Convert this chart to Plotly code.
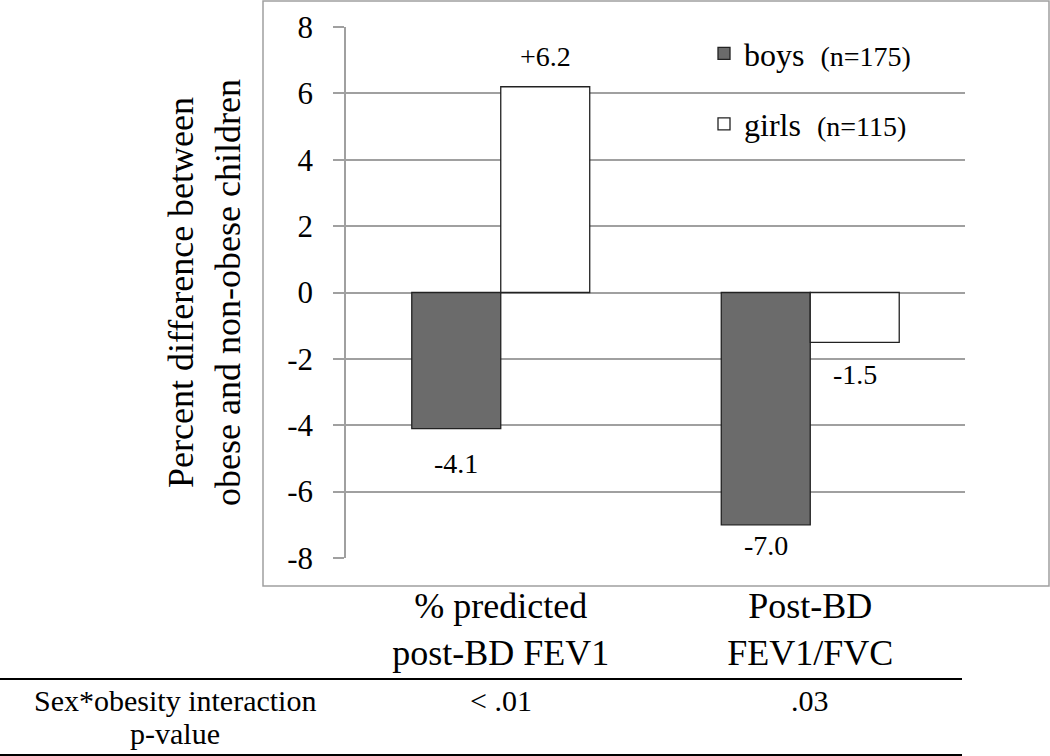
import plotly.graph_objects as go

# ---- data ----
categories = ["% predicted<br>post-BD FEV1", "Post-BD<br>FEV1/FVC"]
series_names = ["boys", "girls"]
series_n = ["(n=175)", "(n=115)"]
boys = [-4.1, -7.0]
girls = [6.2, -1.5]
boys_labels = ["-4.1", "-7.0"]
girls_labels = ["+6.2", "-1.5"]
y_ticks = [-8, -6, -4, -2, 0, 2, 4, 6, 8]
y_title = "Percent difference between<br>obese and non-obese children"
row_label = ["Sex*obesity interaction", "p-value"]
p_values = ["< .01", ".03"]

# ---- layout geometry (pixels) ----
W, H = 1050, 756
L, R, T, B = 346, 85, 27, 198
PW, PH = W - L - R, H - T - B


def px_x(px):
    return (px - L) / PW


def px_y(py):
    return (H - B - py) / PH


FONT = "'Liberation Serif', 'Times New Roman', Times, serif"
GRID = "#a0a0a0"

fig = go.Figure()
fills = ["#6b6b6b", "#ffffff"]
for name, n, vals, fill in zip(series_names, series_n, [boys, girls], fills):
    fig.add_trace(go.Bar(
        x=categories, y=vals,
        name=f"{name}&nbsp;&nbsp;<span style='font-size:28px'>{n}</span>",
        legendgroup=name,
        marker=dict(color=fill, line=dict(color="#222222", width=1.3)),
    ))

annotations = []
# bar value labels
half_bar = 44.5
label_shift_boys = [-35, -21]
label_shift_girls = [30, -32]
for i, cat in enumerate(categories):
    annotations.append(dict(x=cat, y=boys[i], xref="x", yref="y", text=boys_labels[i],
                            showarrow=False, xshift=-half_bar, yshift=label_shift_boys[i],
                            font=dict(size=28, family=FONT, color="black")))
    annotations.append(dict(x=cat, y=girls[i], xref="x", yref="y", text=girls_labels[i],
                            showarrow=False, xshift=half_bar, yshift=label_shift_girls[i],
                            font=dict(size=28, family=FONT, color="black")))

# table below
annotations.append(dict(x=px_x(175), y=px_y(700), xref="paper", yref="paper",
                        text=row_label[0], showarrow=False, xanchor="center", yanchor="middle",
                        font=dict(size=30, family=FONT, color="black")))
annotations.append(dict(x=px_x(175), y=px_y(733), xref="paper", yref="paper",
                        text=row_label[1], showarrow=False, xanchor="center", yanchor="middle",
                        font=dict(size=30, family=FONT, color="black")))
for cat, pv in zip(categories, p_values):
    annotations.append(dict(x=cat, y=px_y(700), xref="x", yref="paper",
                            text=pv.replace("<", "&lt;"), showarrow=False, yanchor="middle",
                            font=dict(size=30, family=FONT, color="black")))

shapes = [
    # outer chart box
    dict(type="rect", xref="paper", yref="paper",
         x0=px_x(263), x1=px_x(1049), y0=px_y(586), y1=px_y(1),
         line=dict(color=GRID, width=1.5), fillcolor="rgba(0,0,0,0)", layer="below"),
    # table rules
    dict(type="line", xref="paper", yref="paper",
         x0=px_x(0), x1=px_x(962), y0=px_y(679), y1=px_y(679),
         line=dict(color="black", width=2)),
    dict(type="line", xref="paper", yref="paper",
         x0=px_x(0), x1=px_x(962), y0=px_y(755), y1=px_y(755),
         line=dict(color="black", width=2)),
]

fig.update_layout(
    width=W, height=H,
    margin=dict(l=L, r=R, t=T, b=B, autoexpand=False),
    paper_bgcolor="white", plot_bgcolor="white",
    font=dict(family=FONT, color="black"),
    barmode="group", bargap=0.425, bargroupgap=0,
    showlegend=True,
    legend=dict(x=px_x(704), y=px_y(26), xanchor="left", yanchor="top",
                font=dict(size=32, family=FONT, color="black"),
                bgcolor="rgba(0,0,0,0)", traceorder="grouped", tracegroupgap=26),
    annotations=annotations,
    shapes=shapes,
    xaxis=dict(showgrid=False, showline=False, ticks="", zeroline=False,
               tickfont=dict(size=36, family=FONT, color="black"),
               ticklabelstandoff=23),
    yaxis=dict(range=[-8, 8], tickvals=y_ticks, ticktext=[str(v) for v in y_ticks],
               showgrid=True, gridcolor=GRID, gridwidth=1.5,
               zeroline=True, zerolinecolor=GRID, zerolinewidth=1.5,
               showline=True, linecolor=GRID, linewidth=1.5,
               ticks="outside", ticklen=11, tickcolor=GRID, tickwidth=1.5,
               tickfont=dict(size=31, family=FONT, color="black"),
               ticklabelstandoff=14,
               title=dict(text=y_title, font=dict(size=36, family=FONT, color="black"),
                          standoff=36)),
)

fig.write_html("out.html", config={"displayModeBar": False},
               post_script="document.body.style.margin='0';document.body.style.overflow='hidden';")
